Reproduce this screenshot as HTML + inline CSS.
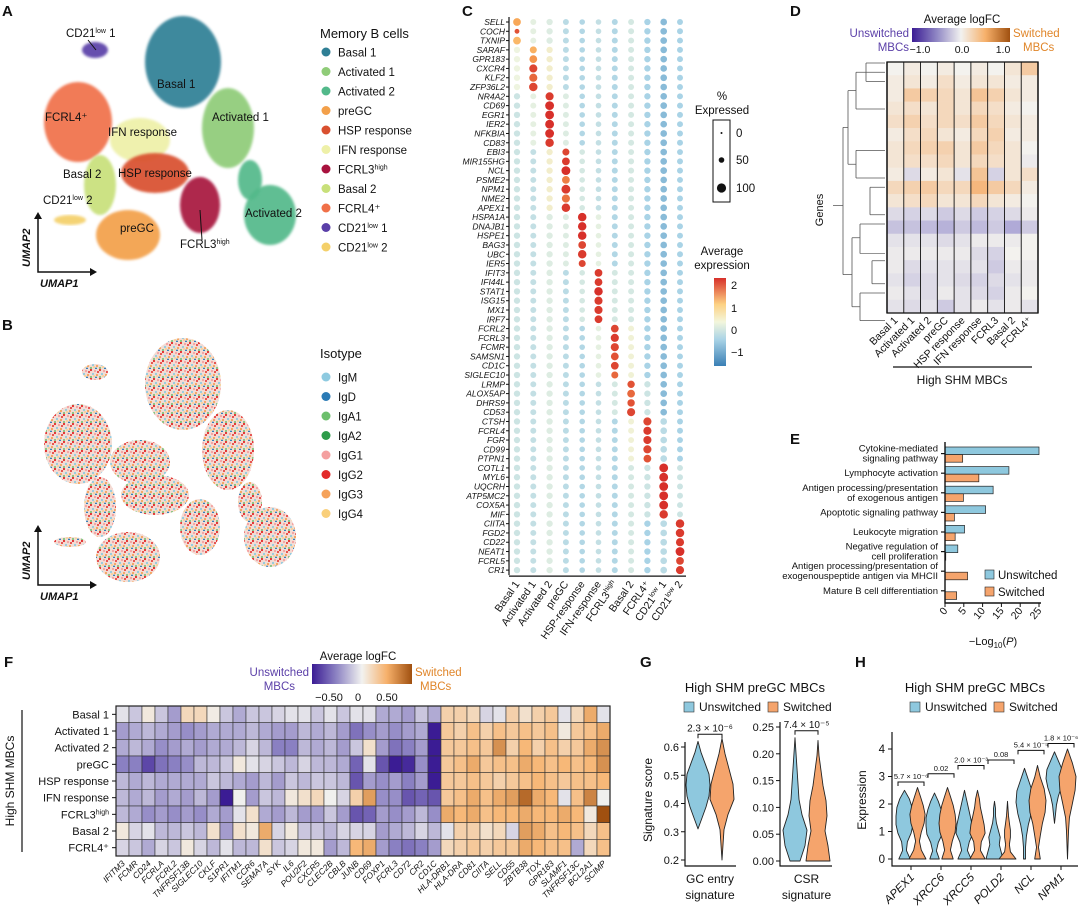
<!DOCTYPE html>
<html><head><meta charset="utf-8"><style>
html,body{margin:0;padding:0;background:#fff;}
svg{display:block;font-family:"Liberation Sans",Arial,sans-serif;}
</style></head><body>
<svg id="fig" width="1080" height="911" viewBox="0 0 1080 911">
<defs>
<pattern id="isoPat" width="9" height="9" patternUnits="userSpaceOnUse">
<rect width="9" height="9" fill="#f3dcd4"/>
<circle cx="1" cy="1" r="1.1" fill="#e22a2a"/><circle cx="5" cy="2" r="1.1" fill="#f4a0a0"/>
<circle cx="3" cy="5" r="1.1" fill="#8ecae0"/><circle cx="7" cy="6" r="1.1" fill="#f5a25a"/>
<circle cx="1" cy="8" r="1" fill="#6cbf6c"/><circle cx="6" cy="8.5" r="1" fill="#2a7ab5"/>
<circle cx="8" cy="3" r="1" fill="#e22a2a"/><circle cx="4" cy="7" r="0.9" fill="#f9cf7a"/>
</pattern>
<linearGradient id="gradPO" x1="0" x2="1" y1="0" y2="0">
<stop offset="0" stop-color="#3b1c94"/><stop offset="0.25" stop-color="#8f86c4"/><stop offset="0.5" stop-color="#f2f2f0"/><stop offset="0.75" stop-color="#f6b06a"/><stop offset="1" stop-color="#a05010"/>
</linearGradient>
<linearGradient id="gradRY" x1="0" x2="0" y1="1" y2="0">
<stop offset="0" stop-color="#3a7fb5"/><stop offset="0.3" stop-color="#a9d3e6"/><stop offset="0.5" stop-color="#f3f6dc"/><stop offset="0.7" stop-color="#fdd283"/><stop offset="1" stop-color="#d7302a"/>
</linearGradient>
<filter id="soft"><feGaussianBlur stdDeviation="1.2"/></filter>
</defs>
</svg>
<script>
// ---------- data ----------
const umapClusters=['Basal 1','Activated 1','Activated 2','preGC','HSP response','IFN response','FCRL3high','Basal 2','FCRL4+','CD21low 1','CD21low 2'];
const umapColors=['#2f7f95','#8fcc78','#52b98a','#f3a04a','#d9502f','#eef0a8','#a8123e','#c8e07a','#f07048','#5a3fa8','#f4d06a'];
const isotypes=['IgM','IgD','IgA1','IgA2','IgG1','IgG2','IgG3','IgG4'];
const isoColors=['#8ecae0','#2a7ab5','#6cbf6c','#2e9c4a','#f4a0a0','#e22a2a','#f5a25a','#f9cf7a'];

const dotGenes=['SELL','COCH','TXNIP','SARAF','GPR183','CXCR4','KLF2','ZFP36L2','NR4A2','CD69','EGR1','IER2','NFKBIA','CD83','EBI3','MIR155HG','NCL','PSME2','NPM1','NME2','APEX1','HSPA1A','DNAJB1','HSPE1','BAG3','UBC','IER5','IFIT3','IFI44L','STAT1','ISG15','MX1','IRF7','FCRL2','FCRL3','FCMR','SAMSN1','CD1C','SIGLEC10','LRMP','ALOX5AP','DHRS9','CD53','CTSH','FCRL4','FGR','CD99','PTPN1','COTL1','MYL6','UQCRH','ATP5MC2','COX5A','MIF','CIITA','FGD2','CD22','NEAT1','FCRL5','CR1'];
const dotClusters=['Basal 1','Activated 1','Activated 2','preGC','HSP-response','IFN-response','FCRL3high','Basal 2','FCRL4+','CD21low 1','CD21low 2'];
const markerOf=[0,0,0,1,1,1,1,1,2,2,2,2,2,2,3,3,3,3,3,3,3,4,4,4,4,4,4,5,5,5,5,5,5,6,6,6,6,6,6,7,7,7,7,8,8,8,8,8,9,9,9,9,9,9,10,10,10,10,10,10];
const markerExpr=[1.4,2.2,1.2,1.3,1.6,2.3,2.0,2.3,2.4,2.5,2.5,2.5,2.5,2.4,2.3,2.4,2.5,1.8,2.4,1.9,2.4,2.5,2.5,2.5,2.3,2.4,2.3,2.4,2.4,2.5,2.4,2.4,2.4,2.3,2.4,2.3,2.2,2.3,2.0,2.2,2.0,2.2,2.3,2.3,2.4,2.4,2.3,2.2,2.5,2.5,2.5,2.5,2.5,2.4,2.4,2.4,2.4,2.5,2.3,2.4];
const markerPct=[80,40,80,70,80,85,85,90,85,95,95,95,95,90,70,80,95,80,95,85,90,90,90,90,80,90,70,80,80,90,85,85,80,80,85,85,80,80,70,75,80,75,85,85,85,85,85,80,95,95,95,95,95,90,90,90,85,95,80,85];
const bgExpr=[-0.4,-0.5,-0.2,-0.6,-0.7,-0.5,-0.7,-0.3,-0.8,-1.0,-0.8];
const bgPct=[60,55,60,55,50,50,55,55,60,65,55];

const fRows=['Basal 1','Activated 1','Activated 2','preGC','HSP response','IFN response','FCRL3high','Basal 2','FCRL4+'];
const fCols=['IFITM3','FCMR','CD24','FCRLA','FCRL2','TNFRSF13B','SIGLEC10','CKLF','S1PR1','IFITM1','CCR6','SEMA7A','SYK','IL6','POU2F2','CXCR5','CLEC2B','CBLB','JUNB','CD69','FOXP1','FCRL3','CD72','CR2','CD1C','HLA-DRB1','HLA-DRA','CD81','CIITA','SELL','CD55','ZBTB38','TOX','GPR183','SLAMF1','TNFRSF13C','BCL2A1','SCIMP'];
const fRow0=[-0.05,-0.15,0.05,-0.15,-0.3,0.15,0.15,0.03,-0.15,-0.25,-0.15,-0.15,-0.1,-0.05,-0.05,-0.15,-0.05,-0.15,-0.05,-0.05,-0.25,-0.25,-0.3,-0.15,-0.25,0.2,0.2,0.15,-0.1,-0.05,0.2,0.1,0.2,0.25,-0.05,0.15,0.4,-0.05];
const fRow1=[-0.3,-0.25,-0.2,-0.25,-0.3,-0.35,-0.3,-0.25,-0.25,-0.25,-0.2,-0.25,-0.3,-0.3,-0.2,-0.25,-0.2,-0.3,-0.45,-0.35,-0.3,-0.35,-0.3,-0.25,-0.8,0.25,0.2,0.3,0.2,0.3,0.25,0.3,0.25,0.3,0.05,0.25,0.3,0.4];
const fRow2=[-0.25,-0.2,-0.25,-0.35,-0.3,-0.25,-0.3,-0.25,-0.25,-0.2,-0.1,-0.2,-0.4,-0.4,-0.2,-0.25,-0.2,-0.3,-0.15,0.1,-0.3,-0.45,-0.4,-0.3,-0.8,0.25,0.25,0.3,0.25,0.5,0.2,0.35,0.2,0.3,0.2,0.25,0.4,0.5];
const fRow3=[-0.4,-0.4,-0.6,-0.45,-0.4,-0.35,-0.2,-0.2,-0.15,0.05,-0.05,-0.1,-0.15,-0.2,-0.1,-0.2,-0.2,-0.25,-0.5,-0.05,-0.55,-0.75,-0.7,-0.35,-0.75,0.25,0.3,0.4,0.25,0.3,0.3,0.4,0.35,0.3,0.35,0.3,0.35,0.5];
const fRow4=[-0.2,-0.25,-0.2,-0.25,-0.25,-0.25,-0.25,-0.15,-0.2,-0.25,-0.3,-0.2,-0.3,-0.15,-0.2,-0.15,-0.15,-0.2,-0.55,-0.3,-0.35,-0.3,-0.4,-0.3,-0.8,0.25,0.25,0.3,0.25,0.2,0.25,0.3,0.35,0.3,0.25,0.3,0.3,0.35];
const fRow5=[-0.2,-0.25,-0.2,-0.3,-0.25,-0.3,-0.2,-0.3,-0.75,0.0,-0.3,-0.15,-0.2,0.05,0.1,0.15,0.0,-0.1,0.2,0.45,-0.35,-0.35,-0.55,-0.5,-0.55,0.25,0.3,0.4,0.3,0.4,0.45,0.65,0.4,0.35,-0.05,0.3,0.55,0.0];
const fRow6=[-0.2,-0.25,-0.35,-0.3,-0.35,-0.3,-0.35,-0.25,-0.3,-0.05,0.1,-0.25,-0.3,-0.2,-0.3,-0.3,-0.15,-0.3,-0.55,-0.5,-0.3,-0.35,-0.3,-0.2,-0.35,0.4,0.35,0.4,0.3,0.35,0.35,0.4,0.35,0.35,0.4,0.35,0.05,0.75];
const fRow7=[0.05,-0.1,-0.05,-0.2,-0.2,-0.15,-0.2,0.1,-0.3,0.1,0.05,0.4,-0.1,0.05,-0.15,-0.15,-0.2,-0.1,-0.1,-0.1,-0.3,-0.25,-0.2,-0.1,-0.2,-0.05,0.2,0.2,0.1,0.15,-0.1,0.45,0.4,0.3,0.35,0.3,0.15,0.3];
const fRow8=[-0.1,-0.15,-0.25,-0.1,-0.15,0.05,-0.1,-0.2,-0.05,-0.2,-0.2,0.1,-0.15,-0.1,0.05,0.05,-0.3,-0.2,0.35,0.4,-0.3,-0.4,-0.45,-0.4,-0.3,0.15,0.2,0.25,0.2,0.25,0.25,0.4,0.35,0.3,0.3,-0.25,0.15,0.3];
const fData=[fRow0,fRow1,fRow2,fRow3,fRow4,fRow5,fRow6,fRow7,fRow8];

const dCols=['Basal 1','Activated 1','Activated 2','preGC','HSP response','IFN response','FCRL3high','Basal 2','FCRL4+'];
const dBands=[
[0.0,0.05,0.0,0.05,0.0,0.05,0.0,0.1,0.3],
[0.05,0.1,0.05,0.15,0.05,0.1,0.1,0.05,0.05],
[0.05,0.3,0.25,0.2,0.1,0.35,0.25,0.1,0.05],
[0.1,0.15,0.1,0.2,0.1,0.2,0.15,0.05,0.0],
[0.15,0.25,0.15,0.2,0.15,0.3,0.2,0.1,0.05],
[0.05,0.15,0.2,0.1,0.05,0.2,0.25,0.05,0.05],
[0.1,0.2,0.25,0.25,0.1,0.3,0.2,0.1,0.0],
[0.1,0.15,0.15,0.2,0.1,0.2,0.15,0.1,-0.05],
[0.05,-0.15,0.05,0.1,-0.1,0.35,-0.2,0.1,0.15],
[0.2,0.25,0.3,0.2,0.2,0.45,0.3,0.2,0.05],
[0.1,0.15,0.2,0.1,0.1,0.2,0.1,0.05,0.0],
[-0.15,-0.2,-0.15,-0.25,-0.15,-0.25,-0.2,-0.15,-0.05],
[-0.3,-0.3,-0.35,-0.4,-0.25,-0.35,-0.25,-0.45,-0.25],
[-0.1,-0.1,-0.1,-0.15,-0.1,-0.05,-0.05,-0.05,0.0],
[-0.05,-0.05,-0.05,-0.05,-0.05,-0.15,-0.2,0.0,0.0],
[-0.05,-0.15,-0.1,-0.1,-0.1,-0.1,-0.25,-0.05,-0.05],
[-0.1,-0.2,-0.15,-0.1,-0.15,-0.2,-0.15,-0.1,-0.05],
[-0.05,-0.1,-0.15,-0.05,-0.1,-0.15,-0.2,-0.05,0.0],
[-0.1,-0.15,-0.1,-0.25,-0.1,-0.05,-0.1,-0.05,-0.1]];

const eTerms=[['Cytokine-mediated','signaling pathway'],['Lymphocyte activation'],['Antigen processing/presentation','of exogenous antigen'],['Apoptotic signaling pathway'],['Leukocyte migration'],['Negative regulation of','cell proliferation'],['Antigen processing/presentation of','exogenouspeptide antigen via MHCII'],['Mature B cell differentiation']];
const eUnsw=[25,17,12.8,10.8,5.2,3.4,0,0];
const eSw=[4.7,9,4.9,2.5,2.7,0.2,6,3.1];
const eTicks=[0,5,10,15,20,25];

const gSig=['GC entry','CSR'];
const gUnswDens=[[0,4,8,11,12,11,7,3,0],[5,10,12,7,4,3,2,1,0]];
const gSwDens=[[0,1,2,6,12,11,7,3,0],[12,10,7,9,8,5,3,1,0]];
const gUnswRange=[[0.31,0.62],[0,0.23]];
const gSwRange=[[0.20,0.63],[0,0.225]];
const gPvals=['2.3 × 10⁻⁶','7.4 × 10⁻⁵'];
const gTicks1=[0.2,0.3,0.4,0.5,0.6];
const gTicks2=[0,0.05,0.10,0.15,0.20,0.25];

const hGenes=['APEX1','XRCC6','XRCC5','POLD2','NCL','NPM1'];
const hUnswDens=[[6,2,3,7,9,9,8,5,0],[5,2,4,8,9,9,7,4,0],[7,3,5,9,8,6,4,2,0],[9,7,5,6,4,2,1,1,0],[1,1,2,4,7,9,8,4,0],[0,1,2,4,7,9,8,4,0]];
const hSwDens=[[9,4,2,4,7,8,6,3,0],[6,3,5,8,9,8,6,3,0],[8,3,4,8,7,5,3,2,0],[9,3,2,3,3,2,1,0.5,0],[3,1,3,5,8,9,7,3,0],[0,0.5,1,2,5,8,9,5,0]];
const hUnswRange=[[0,2.5],[0,2.4],[0,2.5],[0,2.1],[0,3.3],[1.3,3.9]];
const hSwRange=[[0,2.6],[0,2.6],[0,2.5],[0,2.1],[0,3.4],[0,4.0]];
const hPvals=['5.7 × 10⁻⁶','0.02','2.0 × 10⁻³','0.08','5.4 × 10⁻⁵','1.8 × 10⁻⁶'];
const hPy=[2.8,3.1,3.4,3.6,3.95,4.2];
const hTicks=[0,1,2,3,4];

// ---------- helpers ----------
const NS='http://www.w3.org/2000/svg';
const svg=document.getElementById('fig');
function mk(parent,tag,attrs,name,inter){
  const el=document.createElementNS(NS,tag);
  for(const k in attrs) el.setAttribute(k,attrs[k]);
  
  
  parent.appendChild(el);return el;
}
function txt(parent,x,y,s,size,name,extra){
  const a=Object.assign({x:x,y:y,'font-size':size,fill:'#111'},extra||{});
  const t=mk(parent,'text',a,name,false);t.textContent=s;return t;
}
function g(name){return mk(svg,'g',{},name,false);}
function lerp(a,b,t){return a+(b-a)*t;}
function hex(c){return [parseInt(c.slice(1,3),16),parseInt(c.slice(3,5),16),parseInt(c.slice(5,7),16)];}
function scaleColor(stops,v){
  if(v<=stops[0][0])return stops[0][1];
  for(let i=1;i<stops.length;i++){if(v<=stops[i][0]){const t=(v-stops[i-1][0])/(stops[i][0]-stops[i-1][0]);const a=hex(stops[i-1][1]),b=hex(stops[i][1]);return 'rgb('+a.map((x,j)=>Math.round(lerp(x,b[j],t))).join(',')+')';}}
  return stops[stops.length-1][1];
}
const poStops=[[-0.75,'#3b1c94'],[-0.4,'#8a80c2'],[0,'#f0f0ee'],[0.35,'#f7b878'],[0.75,'#a05010']];
const poStopsD=[[-1,'#3b1c94'],[-0.5,'#a8a2d4'],[0,'#f3f2ee'],[0.5,'#f5b070'],[1,'#a05010']];
const ryStops=[[-1.5,'#3a7fb5'],[-0.8,'#a9d3e6'],[0,'#eef4e0'],[0.8,'#fed98b'],[1.5,'#f7a050'],[2.5,'#d7302a']];
function panelLetter(x,y,s){txt(svg,x,y,s,15,'panel-label-'+s.toLowerCase(),{'font-weight':'bold'});}

// ---------- Panel A ----------
panelLetter(2,16,'A');
const gA=g('umap-clusters');
const blobs=[
 [9,95,50,13,8],[10,70,220,16,5],[8,78,122,34,40],[5,140,140,30,22],[7,100,185,16,30],
 [0,183,62,38,46],[1,228,128,26,40],[2,270,215,26,30],[2,250,180,12,20],
 [4,155,173,34,20],[3,128,235,32,25],[6,200,205,20,28]];
blobs.forEach((b,i)=>{mk(gA,'ellipse',{cx:b[1],cy:b[2],rx:b[3],ry:b[4],fill:umapColors[b[0]],opacity:0.92,filter:'url(#soft)'},'umap-cluster-'+i,false);});
[[66,37,'CD21'],[157,88,'Basal 1'],[45,121,'FCRL4⁺'],[108,136,'IFN response'],[212,121,'Activated 1'],[63,178,'Basal 2'],[118,177,'HSP response'],[43,204,'CD21'],[120,232,'preGC'],[245,217,'Activated 2'],[180,248,'FCRL3']].forEach((l,i)=>{
 const t=txt(gA,l[0],l[1],l[2],11.5,'umap-cluster-label',{});
 if(i==0||i==7){const ts=mk(t,'tspan',{'font-size':7,dy:-4},'superscript',false);ts.textContent='low';const t2=mk(t,'tspan',{dy:4},'suffix',false);t2.textContent=i==0?' 1':' 2';}
 if(i==10){const ts=mk(t,'tspan',{'font-size':7,dy:-4},'superscript',false);ts.textContent='high';}
});
mk(gA,'path',{d:'M88 40 L96 50 M200 210 L202 240',stroke:'#111','stroke-width':1,fill:'none'},'label-pointer',false);
function umapAxes(y0,pre){
 mk(svg,'path',{d:`M38 ${y0-55} L38 ${y0} L92 ${y0}`,stroke:'#111','stroke-width':1.5,fill:'none'},pre+'-axes',false);
 mk(svg,'path',{d:`M34 ${y0-53} L38 ${y0-60} L42 ${y0-53} Z M90 ${y0-4} L97 ${y0} L90 ${y0+4} Z`,fill:'#111'},pre+'-arrowheads',false);
 txt(svg,30,y0-5,'UMAP2',11,pre+'-umap2',{'font-style':'italic','font-weight':'bold',transform:`rotate(-90 30 ${y0-5})`});
 txt(svg,40,y0+15,'UMAP1',11,pre+'-umap1',{'font-style':'italic','font-weight':'bold'});
}
umapAxes(272,'a');
const gAL=g('legend-memory-b-cells');
txt(gAL,320,38,'Memory B cells',13,'legend-title',{});
umapClusters.forEach((c,i)=>{const y=52+i*19.5;
 mk(gAL,'circle',{cx:326,cy:y,r:4.5,fill:umapColors[i]},'legend-swatch',false);
 const t=txt(gAL,338,y+4.5,c.replace(/low|high|\+/,''),11.5,'legend-entry',{});
 if(c.includes('low')){t.textContent='CD21';const s=mk(t,'tspan',{'font-size':7,dy:-4},'sup',false);s.textContent='low';const s2=mk(t,'tspan',{dy:4},'suf',false);s2.textContent=' '+c.slice(-1);}
 if(c.includes('high')){t.textContent='FCRL3';const s=mk(t,'tspan',{'font-size':7,dy:-4},'sup',false);s.textContent='high';}
 if(c.includes('+')){t.textContent='FCRL4⁺';}
});

// ---------- Panel B ----------
panelLetter(2,330,'B');
const gB=g('umap-isotype');
blobs.forEach((b,i)=>{mk(gB,'ellipse',{cx:b[1],cy:b[2]+322,rx:b[3],ry:b[4],fill:'url(#isoPat)'},'isotype-region-'+i,false);});
umapAxes(585,'b');
const gBL=g('legend-isotype');
txt(gBL,320,358,'Isotype',13,'legend-title',{});
isotypes.forEach((c,i)=>{const y=377+i*19.5;
 mk(gBL,'circle',{cx:326,cy:y,r:4.5,fill:isoColors[i]},'legend-swatch',false);
 txt(gBL,338,y+4.5,c,11.5,'legend-entry',{});});

// ---------- Panel C ----------
panelLetter(462,16,'C');
const gC=g('dot-plot');
const cx0=517,cdx=16.3,cy0=22,cdy=9.29;
function cX(j){return cx0+j*cdx;}
function cY(i){return cy0+i*cdy;}
function rP(p){return 1+p/100*3.6;}
mk(gC,'line',{x1:509,y1:cy0-5,x2:509,y2:cY(59)+5,stroke:'#111','stroke-width':1.2},'y-axis',false);
dotGenes.forEach((gn,i)=>{
 txt(gC,505,cY(i)+3,gn,8.5,'gene-label',{'font-style':'italic','text-anchor':'end'});
 mk(gC,'line',{x1:506,y1:cY(i),x2:509,y2:cY(i),stroke:'#111'},'tick',false);
 dotClusters.forEach((c,j)=>{
  const m=markerOf[i]===j;
  const v=m?markerExpr[i]:bgExpr[j]+(markerOf[i]===j-1||markerOf[i]===j+1?0.4:0);
  const p=m?markerPct[i]:bgPct[j];
  mk(gC,'circle',{cx:cX(j),cy:cY(i),r:rP(p),fill:scaleColor(ryStops,v)},'dot-'+gn+'-'+j,false);
 });
});
mk(gC,'line',{x1:509,y1:cY(59)+6,x2:cX(10)+6,y2:cY(59)+6,stroke:'#111','stroke-width':1.2},'x-axis',false);
dotClusters.forEach((c,j)=>{const x=cX(j)+3,y=cY(59)+14;
 const t=txt(gC,x,y,c.replace(/low|high|\+/,''),10.5,'cluster-label',{'text-anchor':'end',transform:`rotate(-55 ${x} ${y})`});
 if(c.includes('low')){t.textContent='CD21';const s=mk(t,'tspan',{'font-size':7,dy:-4},'sup',false);s.textContent='low';const s2=mk(t,'tspan',{dy:4},'suf',false);s2.textContent=' '+c.slice(-1);}
 if(c.includes('high')){t.textContent='FCRL3';const s=mk(t,'tspan',{'font-size':7,dy:-4},'sup',false);s.textContent='high';}
 if(c.includes('+')){t.textContent='FCRL4⁺';}
});
const gCL=g('legend-pct-expressed');
txt(gCL,722,100,'%',11.5,'legend-title',{'text-anchor':'middle'});
txt(gCL,722,114,'Expressed',11.5,'legend-title',{'text-anchor':'middle'});
mk(gCL,'rect',{x:713,y:120,width:17,height:82,fill:'none',stroke:'#111'},'legend-box',false);
[[0,133],[50,160],[100,188]].forEach(p=>{mk(gCL,'circle',{cx:721.5,cy:p[1],r:rP(p[0]),fill:'#111'},'legend-dot',false);txt(gCL,736,p[1]+4,String(p[0]),11.5,'legend-label',{});});
const gCC=g('legend-avg-expression');
txt(gCC,722,255,'Average',11.5,'legend-title',{'text-anchor':'middle'});
txt(gCC,722,269,'expression',11.5,'legend-title',{'text-anchor':'middle'});
mk(gCC,'rect',{x:714,y:278,width:12,height:88,fill:'url(#gradRY)'},'colorbar',false);
[[2,285],[1,308],[0,330],['−1',352]].forEach(p=>{txt(gCC,731,p[1]+4,String(p[0]),11,'colorbar-label',{});});

// ---------- Panel D ----------
panelLetter(790,16,'D');
const gD=g('heatmap-d');
const dx0=887,dy0=62,dw=151,dh=251;
const dcw=dw/dCols.length, drh=dh/dBands.length;
dBands.forEach((row,r)=>{row.forEach((v,c)=>{
 mk(gD,'rect',{x:dx0+c*dcw,y:dy0+r*drh,width:dcw+0.3,height:drh+0.3,fill:scaleColor(poStopsD,v)},'d-cell',false);
});});
for(let c=0;c<=dCols.length;c++){mk(gD,'line',{x1:dx0+c*dcw,y1:dy0,x2:dx0+c*dcw,y2:dy0+dh,stroke:'#111','stroke-width':c==0||c==dCols.length?1.3:0.9},'d-col-border',false);}
mk(gD,'rect',{x:dx0,y:dy0,width:dw,height:dh,fill:'none',stroke:'#111','stroke-width':1.3},'d-frame',false);
dCols.forEach((c,j)=>{const x=dx0+(j+0.5)*dcw+3,y=dy0+dh+8;
 txt(gD,x,y,c.replace('high','').replace('+','⁺'),10.5,'d-col-label',{'text-anchor':'end',transform:`rotate(-45 ${x} ${y})`});});
mk(gD,'line',{x1:893,y1:367,x2:1032,y2:367,stroke:'#111','stroke-width':1.2},'d-bracket',false);
txt(gD,962,384,'High SHM MBCs',12,'d-group-label',{'text-anchor':'middle'});
txt(gD,823,210,'Genes',11,'d-y-title',{'text-anchor':'middle',transform:'rotate(-90 823 210)'});
mk(gD,'path',{d:'M833 220 L843 220 M843 135 L843 295 M843 135 L848 135 M843 295 L852 295 M848 95 L848 175 M848 95 L856 95 M848 175 L856 175 M852 255 L852 330 M852 255 L860 255 M852 330 L860 330 M856 75 L856 115 M856 160 L856 190 M860 240 L860 272 M860 315 L860 345 M856 75 L885 75 M856 115 L885 115 M856 160 L885 160 M856 190 L885 190 M860 240 L885 240 M860 272 L885 272 M860 315 L885 315 M860 345 L885 345 M866 65 L866 85 M866 65 L885 65 M866 85 L885 85 M870 200 L870 230 M870 200 L885 200 M870 230 L885 230 M872 280 L872 305 M872 280 L885 280 M872 305 L885 305',stroke:'#555','stroke-width':0.8,fill:'none',transform:'translate(0,-6) scale(1,0.92) translate(0,10)'},'dendrogram',false);
const gDL=g('d-colorbar');
txt(gDL,962,23,'Average logFC',11.5,'colorbar-title',{'text-anchor':'middle'});
mk(gDL,'rect',{x:912,y:28,width:98,height:14,fill:'url(#gradPO)'},'colorbar',false);
[['−1.0',920],['0.0',962],['1.0',1003]].forEach(p=>txt(gDL,p[1],53,p[0],10.5,'colorbar-tick',{'text-anchor':'middle'}));
txt(gDL,909,37,'Unswitched',11.5,'unswitched-label',{'text-anchor':'end',fill:'#5b3fa8'});
txt(gDL,909,51,'MBCs',11.5,'unswitched-label',{'text-anchor':'end',fill:'#5b3fa8'});
txt(gDL,1013,37,'Switched',11.5,'switched-label',{fill:'#e0862a'});
txt(gDL,1023,51,'MBCs',11.5,'switched-label',{fill:'#e0862a'});

// ---------- Panel E ----------
panelLetter(790,444,'E');
const gE=g('bar-chart-e');
const ex0=945,ex1=1039,eyTop=447,eStep=19.6,eBarH=7.6;
function eX(v){return ex0+(v/25)*(ex1-ex0);}
eTerms.forEach((t,i)=>{const yb=eyTop+i*eStep;
 mk(gE,'rect',{x:ex0,y:yb,width:eX(eUnsw[i])-ex0,height:eBarH,fill:'#8ec8de',stroke:'#222','stroke-width':0.7},'bar-unswitched-'+i,false);
 mk(gE,'rect',{x:ex0,y:yb+eBarH,width:eX(eSw[i])-ex0,height:eBarH,fill:'#f5a46c',stroke:'#222','stroke-width':0.7},'bar-switched-'+i,false);
 mk(gE,'line',{x1:ex0-4,y1:yb+eBarH-1,x2:ex0,y2:yb+eBarH-1,stroke:'#111','stroke-width':1.2},'tick',false);
 t.forEach((ln,k)=>txt(gE,ex0-7,yb+eBarH+2-(t.length-1)*5+k*10,ln,9.5,'term-label',{'text-anchor':'end'}));
});
mk(gE,'path',{d:`M${ex0} 442 L${ex0} 603 L${ex1+2} 603`,stroke:'#111','stroke-width':1.4,fill:'none'},'e-axes',false);
eTicks.forEach(v=>{mk(gE,'line',{x1:eX(v),y1:603,x2:eX(v),y2:607,stroke:'#111'},'x-tick',false);
 txt(gE,eX(v)+3,611,String(v),10.5,'x-tick-label',{'text-anchor':'end',transform:`rotate(-50 ${eX(v)+3} 611)`});});
const et=txt(gE,993,645,'−Log',11,'x-axis-title',{'text-anchor':'middle'});
{const s=mk(et,'tspan',{'font-size':8,dy:3},'sub',false);s.textContent='10';const s2=mk(et,'tspan',{dy:-3},'p',false);s2.textContent='(';const s3=mk(et,'tspan',{'font-style':'italic'},'p',false);s3.textContent='P';const s4=mk(et,'tspan',{},'p',false);s4.textContent=')';}
mk(gE,'rect',{x:985,y:570,width:9,height:9,fill:'#8ec8de',stroke:'#222','stroke-width':0.6},'legend-swatch',false);
txt(gE,998,579,'Unswitched',11.5,'legend-entry',{});
mk(gE,'rect',{x:985,y:587,width:9,height:9,fill:'#f5a46c',stroke:'#222','stroke-width':0.6},'legend-swatch',false);
txt(gE,998,596,'Switched',11.5,'legend-entry',{});

// ---------- Panel F ----------
panelLetter(4,667,'F');
const gF=g('heatmap-f');
const fx0=116,fx1=610,fy0=706,fy1=856;
const fcw=(fx1-fx0)/fCols.length, frh=(fy1-fy0)/fRows.length;
fData.forEach((row,r)=>row.forEach((v,c)=>{
 mk(gF,'rect',{x:fx0+c*fcw,y:fy0+r*frh,width:fcw,height:frh,fill:scaleColor(poStops,v),stroke:'#333','stroke-width':0.6},'f-cell-'+fRows[r]+'-'+fCols[c],false);
}));
mk(gF,'rect',{x:fx0,y:fy0,width:fx1-fx0,height:fy1-fy0,fill:'none',stroke:'#222','stroke-width':1.2},'f-frame',false);
fRows.forEach((rn,r)=>{const y=fy0+(r+0.5)*frh;
 mk(gF,'line',{x1:fx0-4,y1:y,x2:fx0,y2:y,stroke:'#111'},'tick',false);
 const t=txt(gF,fx0-7,y+4,rn.replace('high','').replace('+','⁺'),11,'f-row-label',{'text-anchor':'end'});
 if(rn.includes('high')){const s=mk(t,'tspan',{'font-size':7,dy:-4},'sup',false);s.textContent='high';}
});
fCols.forEach((cn,c)=>{const x=fx0+(c+0.5)*fcw+3,y=fy1+8;
 txt(gF,x,y,cn,8.5,'f-col-label',{'font-style':'italic','text-anchor':'end',transform:`rotate(-45 ${x} ${y})`});});
mk(gF,'line',{x1:22,y1:710,x2:22,y2:852,stroke:'#111','stroke-width':1.2},'f-group-bracket',false);
txt(gF,14,781,'High SHM MBCs',12,'f-group-label',{'text-anchor':'middle',transform:'rotate(-90 14 781)'});
txt(gF,358,660,'Average logFC',11.5,'colorbar-title',{'text-anchor':'middle'});
mk(gF,'rect',{x:312,y:664,width:100,height:20,fill:'url(#gradPO)'},'colorbar',false);
[['−0.50',329],['0',358],['0.50',387]].forEach(p=>txt(gF,p[1],701,p[0],11,'colorbar-tick',{'text-anchor':'middle'}));
txt(gF,309,676,'Unswitched',11.5,'unswitched-label',{'text-anchor':'end',fill:'#5b3fa8'});
txt(gF,295,690,'MBCs',11.5,'unswitched-label',{'text-anchor':'end',fill:'#5b3fa8'});
txt(gF,415,676,'Switched',11.5,'switched-label',{fill:'#e0862a'});
txt(gF,420,690,'MBCs',11.5,'switched-label',{fill:'#e0862a'});

// ---------- violins ----------
function violin(parent,cx,yS,range,dens,scale,fill,name){
 const n=dens.length,pts=[];
 for(let k=0;k<n;k++){pts.push([cx+dens[k]*scale,yS(range[0]+(range[1]-range[0])*k/(n-1))]);}
 let d='M'+cx+' '+yS(range[0]);
 pts.forEach(p=>d+=' L'+p[0].toFixed(1)+' '+p[1].toFixed(1));
 for(let k=n-1;k>=0;k--){d+=' L'+(2*cx-pts[k][0]).toFixed(1)+' '+pts[k][1].toFixed(1);}
 d+=' Z';
 mk(parent,'path',{d:d,fill:fill,stroke:'#222','stroke-width':0.9,'stroke-linejoin':'round'},name,false);
}
function bracket(parent,x1,x2,y,label,size){
 mk(parent,'path',{d:`M${x1} ${y+4} L${x1} ${y} L${x2} ${y} L${x2} ${y+4}`,stroke:'#111','stroke-width':1,fill:'none'},'significance-bracket',false);
 txt(parent,(x1+x2)/2,y-3,label,size,'p-value',{'text-anchor':'middle'});
}
function legend2(parent,x,y){
 mk(parent,'rect',{x:x,y:y-9,width:10,height:10,fill:'#8ec8de',stroke:'#333','stroke-width':0.6},'legend-swatch-unswitched',false);
 txt(parent,x+15,y,'Unswitched',12,'legend-entry',{});
 mk(parent,'rect',{x:x+84,y:y-9,width:10,height:10,fill:'#f5a46c',stroke:'#333','stroke-width':0.6},'legend-swatch-switched',false);
 txt(parent,x+99,y,'Switched',12,'legend-entry',{});
}

// ---------- Panel G ----------
panelLetter(640,667,'G');
const gG=g('violin-g');
txt(gG,755,692,'High SHM preGC MBCs',13,'g-title',{'text-anchor':'middle'});
legend2(gG,684,711);
const gYs=[v=>860-(v-0.2)*282.5, v=>861-v*536];
const gAx=[685,780], gCx=[[698,722],[795,818]];
[gTicks1,gTicks2].forEach((ticks,k)=>{
 const ys=gYs[k],ax=gAx[k];
 mk(gG,'path',{d:`M${ax} ${ys(ticks[ticks.length-1])-5} L${ax} 866 L${gCx[k][1]+14} 866`,stroke:'#111','stroke-width':1.2,fill:'none'},'g-axes-'+k,false);
 ticks.forEach(v=>{mk(gG,'line',{x1:ax-4,y1:ys(v),x2:ax,y2:ys(v),stroke:'#111'},'y-tick',false);
  txt(gG,ax-6,ys(v)+4,k==0?v.toFixed(1):v.toFixed(2),11,'y-tick-label',{'text-anchor':'end'});});
 violin(gG,gCx[k][0],ys,gUnswRange[k],gUnswDens[k],1,'#8ec8de','violin-unswitched-'+k);
 violin(gG,gCx[k][1],ys,gSwRange[k],gSwDens[k],1,'#f5a46c','violin-switched-'+k);
 bracket(gG,gCx[k][0],gCx[k][1],ys(k==0?0.645:0.243),gPvals[k],10);
 txt(gG,(gCx[k][0]+gCx[k][1])/2,883,gSig[k],12,'x-label',{'text-anchor':'middle'});
 txt(gG,(gCx[k][0]+gCx[k][1])/2,899,'signature',12,'x-label',{'text-anchor':'middle'});
});
txt(gG,652,800,'Signature score',12,'y-axis-title',{'text-anchor':'middle',transform:'rotate(-90 652 800)'});

// ---------- Panel H ----------
panelLetter(855,667,'H');
const gH=g('violin-h');
txt(gH,975,692,'High SHM preGC MBCs',13,'h-title',{'text-anchor':'middle'});
legend2(gH,910,711);
const hY=v=>859-v*27.5;
const hAx=892;
mk(gH,'path',{d:`M${hAx} 732 L${hAx} 866 L1078 866`,stroke:'#111','stroke-width':1.2,fill:'none'},'h-axes',false);
hTicks.forEach(v=>{mk(gH,'line',{x1:hAx-4,y1:hY(v),x2:hAx,y2:hY(v),stroke:'#111'},'y-tick',false);
 txt(gH,hAx-7,hY(v)+4,String(v),11.5,'y-tick-label',{'text-anchor':'end'});});
txt(gH,866,800,'Expression',12,'y-axis-title',{'text-anchor':'middle',transform:'rotate(-90 866 800)'});
hGenes.forEach((gn,i)=>{const c=911+i*30;
 violin(gH,c-6.5,hY,hUnswRange[i],hUnswDens[i],0.95,'#8ec8de','violin-unswitched-'+gn);
 violin(gH,c+6.5,hY,hSwRange[i],hSwDens[i],0.95,'#f5a46c','violin-switched-'+gn);
 mk(gH,'line',{x1:c,y1:866,x2:c,y2:870,stroke:'#111'},'x-tick',false);
 bracket(gH,c-13,c+13,hY(hPy[i]),hPvals[i],7.5);
 txt(gH,c+4,878,gn,11.5,'gene-label',{'font-style':'italic','text-anchor':'end',transform:`rotate(-45 ${c+4} 878)`});
});
</script>
</body></html>
